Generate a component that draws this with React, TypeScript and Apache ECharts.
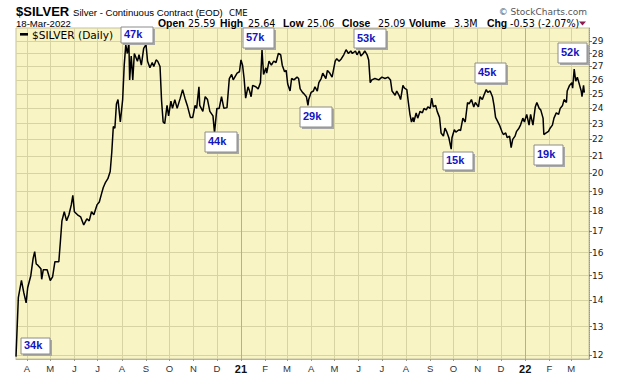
import React, { useEffect, useRef } from 'react';
import * as echarts from 'echarts';

// ---- data (daily close, $SILVER) ----
const dates2020 = ['03-18','03-21','03-25','03-28','03-31','04-02','04-06','04-09','04-11','04-13','04-15','04-19','04-20','04-22','04-27','05-01','05-04','05-07','05-12','05-14','05-16','05-19','05-22','05-25','05-28','05-30','06-01','06-05','06-09','06-13','06-17','06-20','06-23','06-26','06-30','07-03','07-06','07-08','07-11','07-14','07-17','07-19','07-21','07-23','07-25','07-27','07-30','08-02','08-04','08-06','08-08','08-10','08-11','08-13','08-15','08-17','08-21','08-23','08-26','08-29','09-01','09-03','09-06','09-09','09-11','09-14','09-16','09-19','09-21','09-23','09-25','09-28','09-30','10-03','10-05','10-08','10-11','10-15','10-18','10-21','10-24','10-28','10-31','11-03','11-05','11-08','11-09','11-13','11-16','11-19','11-22','11-26','11-28','12-01','12-04','12-07','12-10','12-14','12-17','12-20','12-22','12-27','12-30'];
const prices2020 = [11.95,14.1,14.8,14.3,13.9,14.5,15.0,15.75,16.05,15.5,15.45,15.3,14.85,15.25,15.25,14.8,14.95,15.6,15.6,16.5,17.5,17.95,17.5,17.8,18.3,18.8,17.95,17.8,17.7,17.3,17.6,17.5,17.95,17.8,18.3,18.45,18.9,19.2,19.5,19.7,20.1,21.2,22.8,22.7,24.3,24.6,23.1,24.6,27.1,28.7,28.0,28.85,26.0,27.8,26.0,28.0,27.4,27.9,27.1,28.4,28.7,27.4,26.9,27.3,27.0,27.5,27.4,27.0,24.5,23.1,23.0,24.2,23.5,24.5,24.0,24.6,24.0,24.7,25.3,24.7,24.2,23.4,23.4,24.2,24.0,25.5,24.2,23.8,24.8,24.6,23.8,23.5,22.4,24.0,24.0,24.8,24.0,24.05,26.1,26.4,26.0,26.5,26.6];

const dates2021 = ['01-01','01-03','01-05','01-07','01-10','01-12','01-14','01-16','01-20','01-23','01-26','01-28','01-30','02-02','02-03','02-06','02-09','02-12','02-15','02-18','02-21','02-23','02-26','02-28','03-02','03-05','03-07','03-10','03-14','03-16','03-18','03-21','03-23','03-26','03-28','03-29','04-01','04-04','04-06','04-09','04-11','04-14','04-16','04-20','04-22','04-25','04-28','05-02','05-04','05-07','05-10','05-13','05-16','05-19','05-22','05-24','05-28','05-30','06-02','06-04','06-07','06-09','06-12','06-14','06-16','06-18','06-22','06-27','07-01','07-05','07-09','07-12','07-14','07-18','07-20','07-23','07-25','07-28','07-30','08-02','08-04','08-06','08-08','08-10','08-11','08-14','08-16','08-19','08-22','08-24','08-27','08-29','09-01','09-03','09-05','09-08','09-10','09-13','09-15','09-18','09-20','09-22','09-25','09-28','09-29','10-02','10-04','10-08','10-10','10-13','10-16','10-19','10-21','10-24','10-27','10-29','11-02','11-04','11-07','11-09','11-12','11-14','11-17','11-20','11-22','11-24','11-26','11-29','12-02','12-04','12-07','12-09','12-12','12-14','12-16','12-19','12-21','12-24','12-26','12-29','12-31'];
const prices2021 = [27.5,27.1,26.1,24.7,25.5,25.2,24.8,25.6,25.5,25.35,25.8,28.3,26.4,26.9,26.5,27.4,27.1,27.4,27.3,28.0,27.9,27.1,26.6,26.7,25.7,25.2,26.1,26.0,26.2,26.1,25.35,25.1,25.0,24.8,24.2,24.6,25.1,25.2,25.5,25.2,25.8,26.1,26.5,26.1,26.7,26.5,26.2,27.4,27.6,27.4,27.6,27.9,28.3,28.0,28.2,28.0,28.2,27.9,28.2,27.8,28.0,28.2,27.9,27.5,25.8,26.0,26.1,26.0,26.2,26.1,26.2,26.0,25.2,24.9,25.2,24.9,24.6,25.6,25.4,25.3,24.4,23.6,23.1,23.4,23.1,23.7,23.35,23.8,23.7,24.0,23.9,24.1,24.0,24.7,24.1,24.2,23.8,23.4,22.4,22.2,22.7,22.5,22.1,21.4,22.1,22.6,22.45,22.6,22.55,23.35,23.1,24.4,24.3,24.6,24.1,24.4,24.1,24.8,24.6,24.9,25.3,25.1,25.2,24.8,24.2,23.4,23.2,22.9,22.5,22.3,22.4,22.1,22.2,21.5,22.0,22.2,22.5,22.7,22.9,23.35,23.1];

const dates2022 = ['01-03','01-06','01-08','01-11','01-14','01-16','01-19','01-21','01-24','01-25','01-28','01-31','02-02','02-05','02-07','02-10','02-13','02-15','02-18','02-20','02-23','02-24','02-27','03-02','03-03','03-05','03-07','03-09','03-11','03-14','03-15','03-17','03-18'];
const prices2022 = [23.6,22.9,23.6,22.9,24.1,24.4,24.0,23.9,23.35,22.3,22.4,22.5,22.7,22.9,23.35,23.7,23.6,24.0,24.2,24.6,24.4,25.2,25.6,25.8,25.4,26.8,25.9,26.2,25.8,25.2,24.8,25.6,25.09];

const yTicks = [12, 13, 14, 15, 16, 17, 18, 19, 20, 21, 22, 23, 24, 25, 26, 27, 28, 29];
const monthTicks = ['2020-04-01','2020-05-01','2020-06-01','2020-07-01','2020-08-01','2020-09-01','2020-10-01','2020-11-01','2020-12-01','2021-01-01','2021-02-01','2021-03-01','2021-04-01','2021-05-01','2021-06-01','2021-07-01','2021-08-01','2021-09-01','2021-10-01','2021-11-01','2021-12-01','2022-01-01','2022-02-01','2022-03-01'];
const yearStarts = ['2021-01-01', '2022-01-01'];
const xRange = ['2020-03-18', '2022-03-24'];
const volumeNotes = ['47k', '57k', '53k', '34k', '44k', '29k', '15k', '45k', '19k', '52k'];

const quote = [
  ['Open', '25.59'], ['High', '25.64'], ['Low', '25.06'], ['Close', '25.09'], ['Volume', '3.3M'], ['Chg', '-0.53 (-2.07%)'],
];

// layout (pixels) for header pieces and annotation boxes
const quoteX = [[158, 188], [220, 248], [283, 307], [342, 378], [409, 454], [487, 510]];
const noteBoxes = [
  [121, 27, 32, 16], [243, 28, 31, 20], [354, 29, 32, 19], [21, 338, 29, 16], [205, 132, 32, 20],
  [300, 107, 32, 20], [443, 152, 30, 18], [475, 63, 31, 20], [534, 145, 29, 20], [558, 43, 29, 20],
];

const ts = (s: string) => {
  const [y, m, d] = s.split('-').map(Number);
  return Date.UTC(y, m - 1, d);
};

const seriesData = [
  ...dates2020.map((d, i) => [ts('2020-' + d), prices2020[i]]),
  ...dates2021.map((d, i) => [ts('2021-' + d), prices2021[i]]),
  ...dates2022.map((d, i) => [ts('2022-' + d), prices2022[i]]),
];
const monthTickValues = monthTicks.map(ts);

const SANS = 'Liberation Sans, Arial, sans-serif';
const VERD = 'DejaVu Sans, Verdana, sans-serif';

export default function App() {
  const ref = useRef<HTMLDivElement>(null);
  useEffect(() => {
    document.body.style.margin = '0';
    const chart = echarts.init(ref.current!, null, { renderer: 'svg' });
    const graphics: any[] = [];
    graphics.push({ type: 'text', x: 16, y: 11.5, style: { text: '$SILVER', font: 'bold 13px ' + SANS, fill: '#000', verticalAlign: 'middle' } });
    graphics.push({ type: 'text', x: 73, y: 12, style: { text: 'Silver - Continuous Contract (EOD)', font: '9.6px ' + SANS, fill: '#000', verticalAlign: 'middle' } });
    graphics.push({ type: 'text', x: 229, y: 12.5, style: { text: 'CME', font: '8.5px ' + VERD, fill: '#000', verticalAlign: 'middle' } });
    graphics.push({ type: 'text', x: 587, y: 12, style: { text: '© StockCharts.com', font: '9px ' + VERD, fill: '#555', align: 'right', verticalAlign: 'middle' } });
    graphics.push({ type: 'text', x: 16, y: 23.3, style: { text: '18-Mar-2022', font: '9.6px ' + SANS, fill: '#000', verticalAlign: 'middle' } });
    quote.forEach((q, i) => {
      graphics.push({ type: 'text', x: quoteX[i][0], y: 23.7, style: { text: q[0], font: 'bold 10.4px ' + SANS, fill: '#000', verticalAlign: 'middle' } });
      graphics.push({ type: 'text', x: quoteX[i][1], y: 23.9, style: { text: q[1], font: '9.6px ' + VERD, fill: '#000', verticalAlign: 'middle' } });
    });
    graphics.push({ type: 'polygon', shape: { points: [[579, 21.5], [586, 21.5], [582.5, 25.5]] }, style: { fill: '#8e1b4f' } });
    graphics.push({ type: 'rect', shape: { x: 20, y: 33, width: 8, height: 2.6 }, style: { fill: '#000' }, z: 10 });
    graphics.push({ type: 'text', x: 32, y: 34.5, style: { text: '$SILVER (Daily)', font: '10.6px ' + VERD, fill: '#000', verticalAlign: 'middle' }, z: 10 });
    volumeNotes.forEach((t, i) => {
      const [bx, by, bw, bh] = noteBoxes[i];
      graphics.push({ type: 'rect', shape: { x: bx + 2, y: by + 2, width: bw, height: bh }, style: { fill: '#a8a8a8' }, z: 20 });
      graphics.push({ type: 'rect', shape: { x: bx, y: by, width: bw, height: bh }, style: { fill: '#ffffff', stroke: '#8c8c8c', lineWidth: 1 }, z: 21 });
      graphics.push({ type: 'text', x: bx + 3, y: by + bh / 2 - 1, style: { text: t, font: 'bold 11px ' + SANS, fill: '#1515c0', verticalAlign: 'middle' }, z: 22 });
    });

    chart.setOption({
      animation: false,
      backgroundColor: '#ffffff',
      grid: { left: 16, top: 28, width: 573, height: 331, show: true, backgroundColor: '#f8f4c4', borderColor: '#c4c0a0', borderWidth: 1, containLabel: false },
      xAxis: {
        type: 'value',
        min: ts(xRange[0]),
        max: ts(xRange[1]),
        scale: true,
        axisLine: { show: true, lineStyle: { color: '#b8b49a' } },
        axisTick: { show: true, length: 2, customValues: monthTickValues, lineStyle: { color: '#999' } },
        axisLabel: {
          customValues: monthTickValues,
          margin: 4,
          fontSize: 9.5,
          fontFamily: SANS,
          color: '#333',
          formatter: (v: number) => {
            const d = new Date(v);
            const m = d.getUTCMonth();
            if (m === 0) return '{b|' + String(d.getUTCFullYear()).slice(2) + '}';
            return 'JFMAMJJASOND'[m];
          },
          rich: { b: { fontWeight: 'bold', fontSize: 11, fontFamily: SANS, color: '#111' } },
        },
        splitLine: { show: true, lineStyle: { color: '#d7d3a3', width: 1 } },
      },
      yAxis: {
        type: 'log',
        logBase: 10,
        min: 11.87,
        max: 30.08,
        position: 'right',
        axisLine: { show: true, lineStyle: { color: '#999', type: 'dotted' } },
        axisTick: { show: true, length: 3, customValues: yTicks, lineStyle: { color: '#777' } },
        axisLabel: { customValues: yTicks, margin: 3, fontSize: 9, fontFamily: VERD, color: '#222', formatter: (v: number) => String(Math.round(v)) },
        splitLine: { show: true, lineStyle: { color: '#d7d3a3', width: 1 } },
      },
      series: [
        {
          type: 'line',
          name: '$SILVER (Daily)',
          data: seriesData,
          showSymbol: false,
          symbol: 'none',
          lineStyle: { color: '#000', width: 1.5 },
          z: 5,
          markLine: {
            silent: true,
            symbol: 'none',
            label: { show: false },
            lineStyle: { color: '#b5b18e', width: 1, type: 'solid' },
            data: yearStarts.map((d) => ({ xAxis: ts(d) })),
            z: 1,
          },
        },
      ],
      graphic: graphics,
    });
    return () => chart.dispose();
  }, []);
  return <div ref={ref} style={{ position: 'fixed', left: 0, top: 0, width: 620, height: 376 }} />;
}
